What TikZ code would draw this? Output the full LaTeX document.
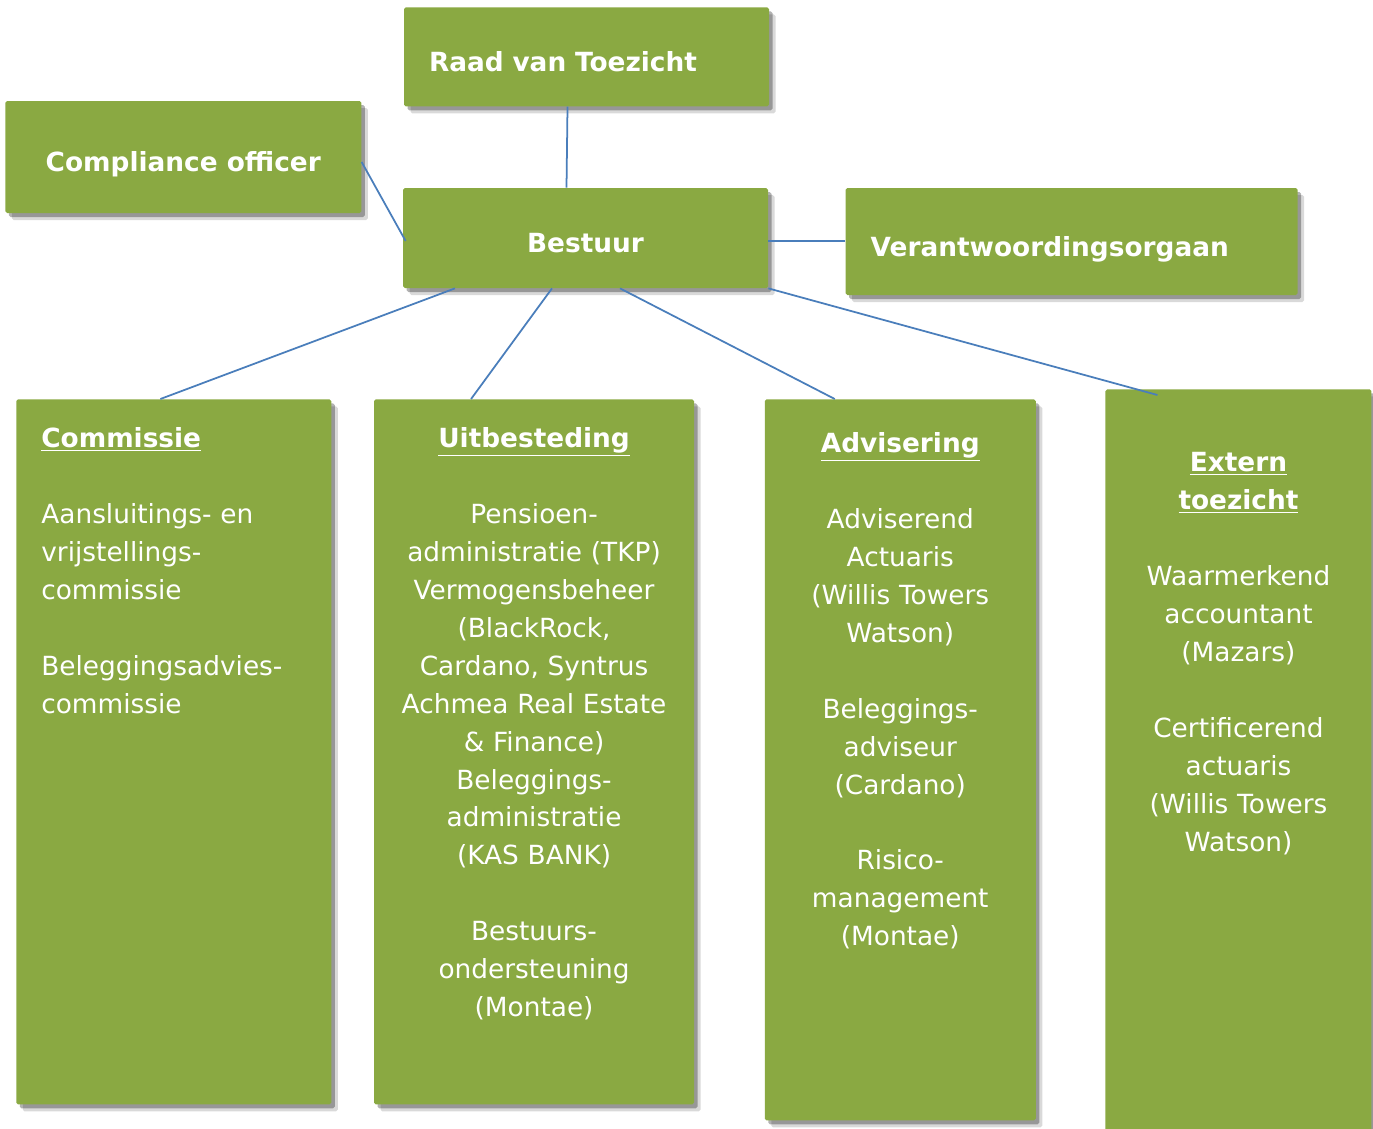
\documentclass[tikz,border=0pt]{standalone}
\usepackage{fontspec}
\setmainfont{DejaVu Sans}
\usetikzlibrary{positioning,shadows}
\definecolor{orggreen}{RGB}{138,169,66}
\definecolor{orgblue}{RGB}{74,126,187}
\tikzstyle{link} = [
orgblue,
line width=1pt
]
\newcommand{\emptyline}{\\[21.6pt]}

\begin{document}
\begin{tikzpicture}[
			box/.style={
				fill=orggreen,
				rounded corners=1pt,
				drop shadow={shadow xshift=1.3mm, shadow yshift=-1.4mm, fill=black, opacity=0.15},
				drop shadow={shadow xshift=0.7mm, shadow yshift=-0.8mm, fill=black, opacity=0.3},
				text=white,
				font=\bfseries\fontsize{15}{18}\selectfont
			},
			topbox/.style={
				box,
				text height=0.58cm,
				text depth=0cm
			},
			colbox/.style={
				box,
				anchor=north west
			},
			coltext/.style={
				text=white,
				font=\fontsize{15}{21.6}\selectfont,
				inner sep=0pt,
				anchor=north,
				align=center
			}
			]
			\useasboundingbox (0,0) rectangle (27.46,-22.56);
			
			% Top boxes
			\node[topbox, minimum width=7.3cm, minimum height=2cm] (bestuur) at (11.71,-4.76) {Bestuur};
			\node[topbox, above=1.62cm of bestuur, xshift=0.02cm, minimum height=1.98cm, text width=6.3cm, inner xsep=0.5cm, align=left] (raad) {Raad van Toezicht};
			\node[topbox, left=0.82cm of bestuur, yshift=1.62cm, minimum width=7.12cm, minimum height=2.24cm] (compliance) {Compliance officer};
			\node[topbox, right=1.54cm of bestuur, yshift=-0.07cm, minimum height=2.14cm, text width=8.04cm, inner xsep=0.5cm, align=left] (verantwoording) {Verantwoordingsorgaan};
			
			% Columns
			\node[colbox, minimum width=6.3cm, minimum height=14.1cm] (commissie) at (0.32,-7.98) {};
			\node[colbox, right=0.84cm of commissie.north east, anchor=north west, minimum width=6.4cm, minimum height=14.1cm] (uitbesteding) {};
			\node[colbox, right=1.4cm of uitbesteding.north east, anchor=north west, minimum width=5.42cm, minimum height=14.42cm] (advisering) {};
			\node[colbox, right=1.38cm of advisering.north east, anchor=north west, yshift=0.2cm, minimum width=5.32cm, minimum height=15cm] (extern) {};
			
			% Column texts
			\node[coltext, below=0.56cm of commissie.north, text width=5.3cm, align=left] (commissietekst) {%
				\underline{\textbf{Commissie}}\emptyline
				Aansluitings- en\\ vrijstellings-\\ commissie\emptyline
				Beleggingsadvies-\\ commissie};
			\node[coltext, below=0.56cm of uitbesteding.north, text width=6.2cm] (uitbestedingtekst) {%
				\underline{\textbf{Uitbesteding}}\emptyline
				Pensioen-\\ administratie (TKP)\\ Vermogensbeheer\\ (BlackRock,\\ Cardano, Syntrus\\ Achmea Real Estate\\ \& Finance)\\ Beleggings-\\ administratie\\ (KAS BANK)\emptyline
				Bestuurs-\\ ondersteuning\\ (Montae)};
			\node[coltext, below=0.66cm of advisering.north, text width=5.2cm] (adviseringtekst) {%
				\underline{\textbf{Advisering}}\emptyline
				Adviserend\\ Actuaris\\ (Willis Towers\\ Watson)\emptyline
				Beleggings-\\ adviseur\\ (Cardano)\emptyline
				Risico-\\ management\\ (Montae)};
			\node[coltext, below=1.26cm of extern.north, text width=5.1cm] (interntekst) {%
				\underline{\textbf{Extern}}\\ \underline{\textbf{toezicht}}\emptyline
				Waarmerkend\\ accountant\\ (Mazars)\emptyline
				Certificerend\\ actuaris\\ (Willis Towers\\ Watson)};
			
			% Lines
			\draw[link] ([xshift=-0.38cm]raad.south) -- ([xshift=-0.38cm]bestuur.north);
			\draw[link] ([yshift=-0.1cm]compliance.east) -- ([xshift=0.06cm, yshift=-0.06cm]bestuur.west);
			\draw[link] ([yshift=-0.06cm]bestuur.east) -- ([yshift=-0.06cm]bestuur.east -| verantwoording.west);
			\draw[link] ([xshift=-2.61cm]bestuur.south) -- ([xshift=-0.27cm]commissie.north);
			\draw[link] ([xshift=-0.67cm]bestuur.south) -- ([xshift=-1.26cm]uitbesteding.north);
			\draw[link] ([xshift=0.69cm]bestuur.south) -- ([xshift=-1.31cm]advisering.north);
			\draw[link] (bestuur.south east) -- ([xshift=-1.62cm, yshift=-0.12cm]extern.north);
			
		\end{tikzpicture}
\end{document}
